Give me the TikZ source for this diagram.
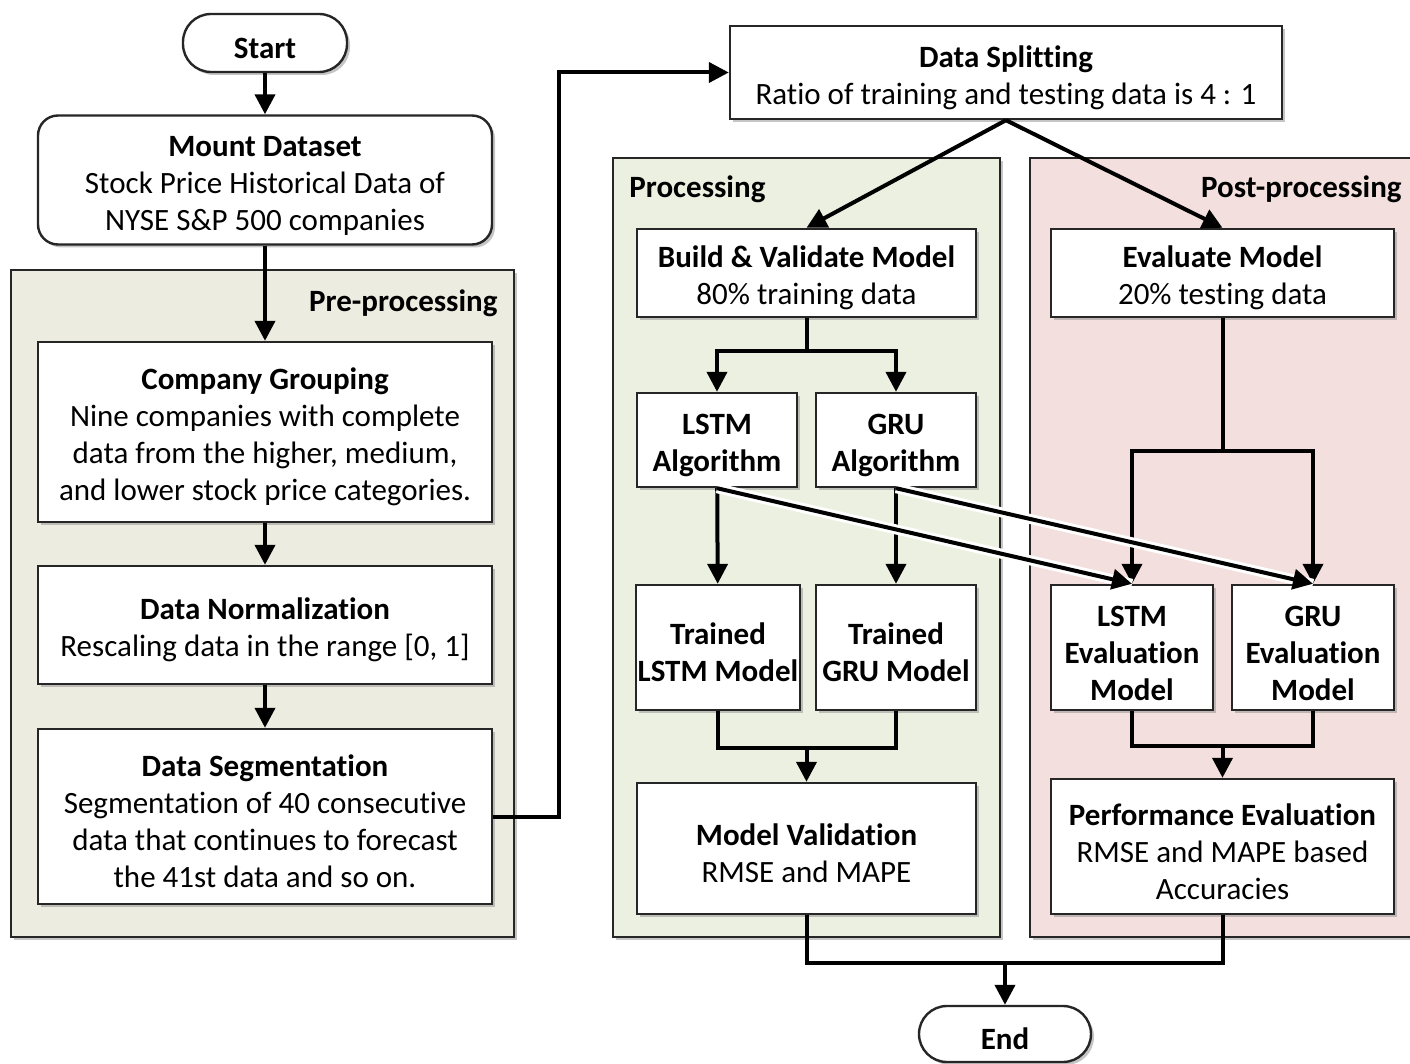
\documentclass[tikz,border=0pt]{standalone}
\usepackage{fontspec}
\setmainfont{Carlito}[Ligatures=NoCommon]
\usepackage[dvipsnames]{xcolor}
\usetikzlibrary{arrows.meta,shadows}

\definecolor{prefill}{RGB}{237,236,224}
\definecolor{procfill}{RGB}{235,240,225}
\definecolor{postfill}{RGB}{243,224,222}

% bold first line, a bit lower in its box
\newcommand{\hd}[1]{\rule{0pt}{16pt}\textbf{#1}}

\tikzset{
    box/.style={draw=black!85, line width=1.2pt, fill=white, align=center, inner sep=1pt,
        font=\fontsize{15.5}{18.5}\selectfont,
        drop shadow={shadow xshift=1.5pt, shadow yshift=-1.5pt, fill=black!45, opacity=0.5}},
    term/.style={box, rounded corners=14pt},
    panel/.style={draw=black!85, line width=1.2pt,
        drop shadow={shadow xshift=1.5pt, shadow yshift=-1.5pt, fill=black!45, opacity=0.5}},
    lbl/.style={font=\fontsize{15.5}{18.5}\selectfont\bfseries, inner sep=0pt},
    link/.style={line width=2pt},
    arr/.style={link, -{Triangle[length=10pt,width=10pt]}},
    over/.style={arr, preaction={draw=white, line width=5pt, -}},
}

\begin{document}
\begin{tikzpicture}[x=0.5pt, y=-0.5pt]
    \useasboundingbox (0,0) rectangle (1410,1064);

    % panels
    \draw[panel, fill=prefill] (11,270) rectangle (514,937);
    \draw[panel, fill=procfill] (613,158) rectangle (1000,937);
    \draw[panel, fill=postfill] (1030,158) rectangle (1416,937);
    \node[lbl, anchor=east] (prelbl) at (498,303) {Pre-processing};
    \node[lbl, anchor=west] (proclbl) at (629,189) {Processing};
    \node[lbl, anchor=east] (postlbl) at (1402,189) {Post-processing};

    % left column
    \node[term, minimum width=82pt, minimum height=29pt] (start) at (265,43) {\hd{Start}};
    \node[term, rounded corners=10pt, minimum width=227pt, minimum height=64.5pt] (mount) at (265,180)
        {\hd{Mount Dataset}\\Stock Price Historical Data of\\NYSE S\&P 500 companies};
    \node[box, minimum width=227pt, minimum height=90pt] (group) at (265,432)
        {\hd{Company Grouping}\\Nine companies with complete\\data from the higher, medium,\\and lower stock price categories.};
    \node[box, minimum width=227pt, minimum height=59pt] (norm) at (265,625)
        {\hd{Data Normalization}\\Rescaling data in the range [0, 1]};
    \node[box, minimum width=227pt, minimum height=87.5pt] (segm) at (265,816.5)
        {\hd{Data Segmentation}\\Segmentation of 40 consecutive\\data that continues to forecast\\the 41st data and so on.};

    % splitting
    \node[box, minimum width=276pt, minimum height=46.5pt] (split) at (1006,72.5)
        {\hd{Data Splitting}\\Ratio of training and testing data is 4 : 1};

    % processing
    \node[box, minimum width=169.5pt, minimum height=44pt] (build) at (806.5,273)
        {\hd{Build \& Validate Model}\\80\% training data};
    \node[box, minimum width=80pt, minimum height=47pt] (lstm) at (717,440) {\hd{LSTM}\\\textbf{Algorithm}};
    \node[box, minimum width=80pt, minimum height=47pt] (gru) at (896,440) {\hd{GRU}\\\textbf{Algorithm}};
    \node[box, minimum width=81pt, minimum height=62.5pt] (tlstm) at (718,647.5) {\hd{Trained}\\\textbf{LSTM Model}};
    \node[box, minimum width=80pt, minimum height=62.5pt] (tgru) at (896,647.5) {\hd{Trained}\\\textbf{GRU Model}};
    \node[box, minimum width=169.5pt, minimum height=65.5pt] (valid) at (806.5,848.5)
        {\hd{Model Validation}\\RMSE and MAPE};

    % post-processing
    \node[box, minimum width=171.5pt, minimum height=44pt] (eval) at (1222.5,273)
        {\hd{Evaluate Model}\\20\% testing data};
    \node[box, minimum width=81pt, minimum height=62.5pt] (levl) at (1132,647.5) {\hd{LSTM}\\\textbf{Evaluation}\\\textbf{Model}};
    \node[box, minimum width=81pt, minimum height=62.5pt] (gevl) at (1313,647.5) {\hd{GRU}\\\textbf{Evaluation}\\\textbf{Model}};
    \node[box, minimum width=171.5pt, minimum height=67.5pt] (perf) at (1222.5,846.5)
        {\hd{Performance Evaluation}\\RMSE and MAPE based\\Accuracies};

    \node[term, minimum width=86pt, minimum height=28pt] (end) at (1005,1034) {\hd{End}};

    % connectors
    \draw[arr] (start) -- (mount);
    \draw[arr] (mount) -- (group);
    \draw[arr] (group) -- (norm);
    \draw[arr] (norm) -- (segm);
    \draw[arr] (segm.east) -- ++(66,0) |- (split.west);
    \draw[arr] (split.south) -- (build.north);
    \draw[arr] (split.south) -- (eval.north);

    \draw[link] (build.south) -- ++(0,33) coordinate (bfork);
    \draw[arr] (bfork) -| (lstm.north);
    \draw[arr] (bfork) -| (gru.north);
    \draw[arr] (lstm) -- (tlstm);
    \draw[arr] (gru) -- (tgru);
    \draw[link] (tlstm.south) -- ++(0,37) -| (tgru.south);
    \coordinate (tjoin) at (valid.north |- 0,747);
    \draw[arr] (tjoin) -- (valid.north);

    \draw[link] (eval.south) -- ++(0,133) coordinate (efork);
    \draw[arr] (efork) -| (levl.north);
    \draw[arr] (efork) -| (gevl.north);
    \draw[link] (levl.south) -- ++(0,35) -| (gevl.south);
    \coordinate (ejoin) at (perf.north |- 0,745);
    \draw[arr] (ejoin) -- (perf.north);

    \draw[over] (lstm.south) -- (levl.north);
    \draw[over] (gru.south) -- (gevl.north);

    \draw[link] (valid.south) -- ++(0,48) -| (perf.south);
    \coordinate (fjoin) at (end.north |- 0,962);
    \draw[arr] (fjoin) -- (end.north);

\end{tikzpicture}
\end{document}
